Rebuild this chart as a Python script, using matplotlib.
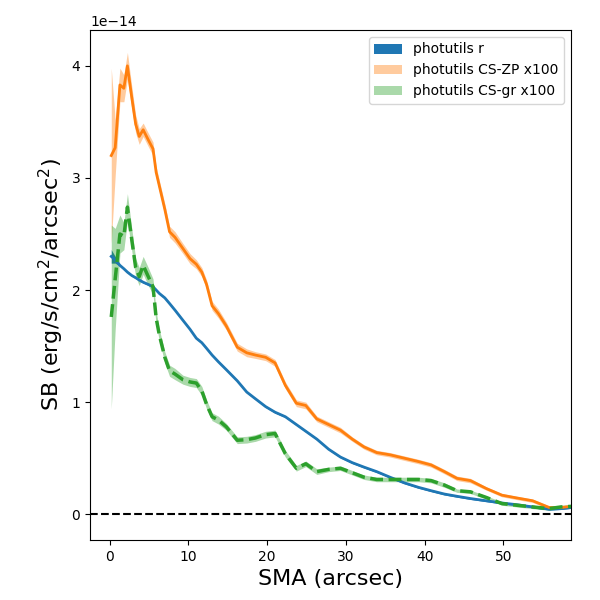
import numpy as np
import matplotlib
matplotlib.use("Agg")
import matplotlib.pyplot as plt

sma = [0.2, 0.7, 1.3, 1.8, 2.25, 2.8, 3.3, 3.75, 4.25, 4.9, 5.5, 5.9, 6.3, 7.0, 7.6,
       8.3, 9.3, 10.2, 11.0, 11.7, 12.3, 13.0, 13.8, 14.8, 16.2, 17.4, 18.5, 19.8,
       21.0, 22.3, 23.7, 24.9, 26.3, 27.8, 29.3, 30.8, 32.3, 33.9, 35.6, 37.4, 39.2,
       40.8, 42.5, 44.1, 45.8, 47.8, 49.8, 51.7, 53.7, 55.8, 57.3, 58.6]

sb_r = [2.30, 2.27, 2.22, 2.19, 2.16, 2.13, 2.11, 2.09, 2.07, 2.05, 2.03, 2.00, 1.97,
        1.93, 1.88, 1.82, 1.73, 1.65, 1.57, 1.53, 1.48, 1.42, 1.36, 1.29, 1.19, 1.09,
        1.03, 0.96, 0.91, 0.87, 0.80, 0.74, 0.67, 0.58, 0.51, 0.46, 0.42, 0.38, 0.33,
        0.28, 0.24, 0.21, 0.18, 0.16, 0.14, 0.12, 0.10, 0.085, 0.065, 0.045, 0.05, 0.06]
err_r = [0.06, 0.03] + [0.008] * 50

sb_zp = [3.20, 3.27, 3.83, 3.80, 4.00, 3.72, 3.48, 3.37, 3.43, 3.34, 3.26, 3.05, 2.93,
         2.72, 2.52, 2.47, 2.37, 2.28, 2.23, 2.16, 2.05, 1.86, 1.79, 1.68, 1.49, 1.44,
         1.42, 1.40, 1.35, 1.15, 0.99, 0.97, 0.85, 0.80, 0.75, 0.67, 0.60, 0.55, 0.53,
         0.50, 0.47, 0.44, 0.38, 0.32, 0.30, 0.23, 0.17, 0.145, 0.12, 0.06, 0.06, 0.07]
err_zp = [0.78, 0.25, 0.15, 0.12, 0.12, 0.10, 0.08, 0.07, 0.06, 0.06, 0.06, 0.05, 0.05,
          0.05, 0.05, 0.05, 0.045, 0.045, 0.04, 0.04, 0.04, 0.04, 0.04, 0.035, 0.035,
          0.035, 0.03, 0.03, 0.03, 0.03, 0.03, 0.03, 0.025, 0.025, 0.025, 0.02, 0.02,
          0.02, 0.02, 0.02, 0.02, 0.02, 0.02, 0.02, 0.02, 0.015, 0.015, 0.015, 0.015,
          0.015, 0.015, 0.015]

sb_gr = [1.76, 2.10, 2.50, 2.48, 2.74, 2.45, 2.20, 2.12, 2.22, 2.12, 2.03, 1.75, 1.60,
         1.40, 1.28, 1.25, 1.20, 1.18, 1.17, 1.10, 0.98, 0.87, 0.84, 0.78, 0.66, 0.665,
         0.68, 0.71, 0.72, 0.54, 0.41, 0.45, 0.38, 0.40, 0.41, 0.37, 0.33, 0.31, 0.31,
         0.31, 0.31, 0.30, 0.26, 0.21, 0.20, 0.15, 0.095, 0.08, 0.065, 0.05, 0.065, 0.07]
err_gr = [0.82, 0.45, 0.17, 0.12, 0.12, 0.10, 0.08, 0.08, 0.08, 0.08, 0.07, 0.06, 0.05,
          0.05, 0.05, 0.05, 0.04, 0.04, 0.04, 0.04, 0.04, 0.035, 0.035, 0.03, 0.03, 0.03,
          0.03, 0.03, 0.03, 0.03, 0.025, 0.025, 0.025, 0.02, 0.02, 0.02, 0.02, 0.02,
          0.02, 0.02, 0.02, 0.02, 0.02, 0.015, 0.015, 0.015, 0.015, 0.015, 0.015, 0.015,
          0.015, 0.015]

scale = 1e-14
x = np.array(sma)
r = np.array(sb_r) * scale
er = np.array(err_r) * scale
zp = np.array(sb_zp) * scale
ezp = np.array(err_zp) * scale
gr = np.array(sb_gr) * scale
egr = np.array(err_gr) * scale

fig = plt.figure(figsize=(6, 6), dpi=100)
ax = fig.add_axes([0.15, 0.1, 0.802, 0.85])

ax.fill_between(x, r - er, r + er, color='C0', alpha=1.0, label='photutils r', lw=0)
ax.plot(x, r, color='C0', lw=2)
ax.fill_between(x, zp - ezp, zp + ezp, color='C1', alpha=0.4, label='photutils CS-ZP x100', lw=0)
ax.plot(x, zp, color='C1', lw=2)
ax.fill_between(x, gr - egr, gr + egr, color='C2', alpha=0.4, label='photutils CS-gr x100', lw=0)
ax.plot(x, gr, color='C2', lw=2.5, ls='--')

ax.axhline(0, color='k', ls='--', lw=1.5)

ax.set_xlim(-2.5, 58.6)
ax.set_ylim(-0.23e-14, 4.32e-14)
ax.set_xlabel('SMA (arcsec)', fontsize=16)
ax.set_ylabel('SB (erg/s/cm$^2$/arcsec$^2$)', fontsize=16)
ax.legend(loc='upper right')

fig.savefig('out.png', dpi=100)
